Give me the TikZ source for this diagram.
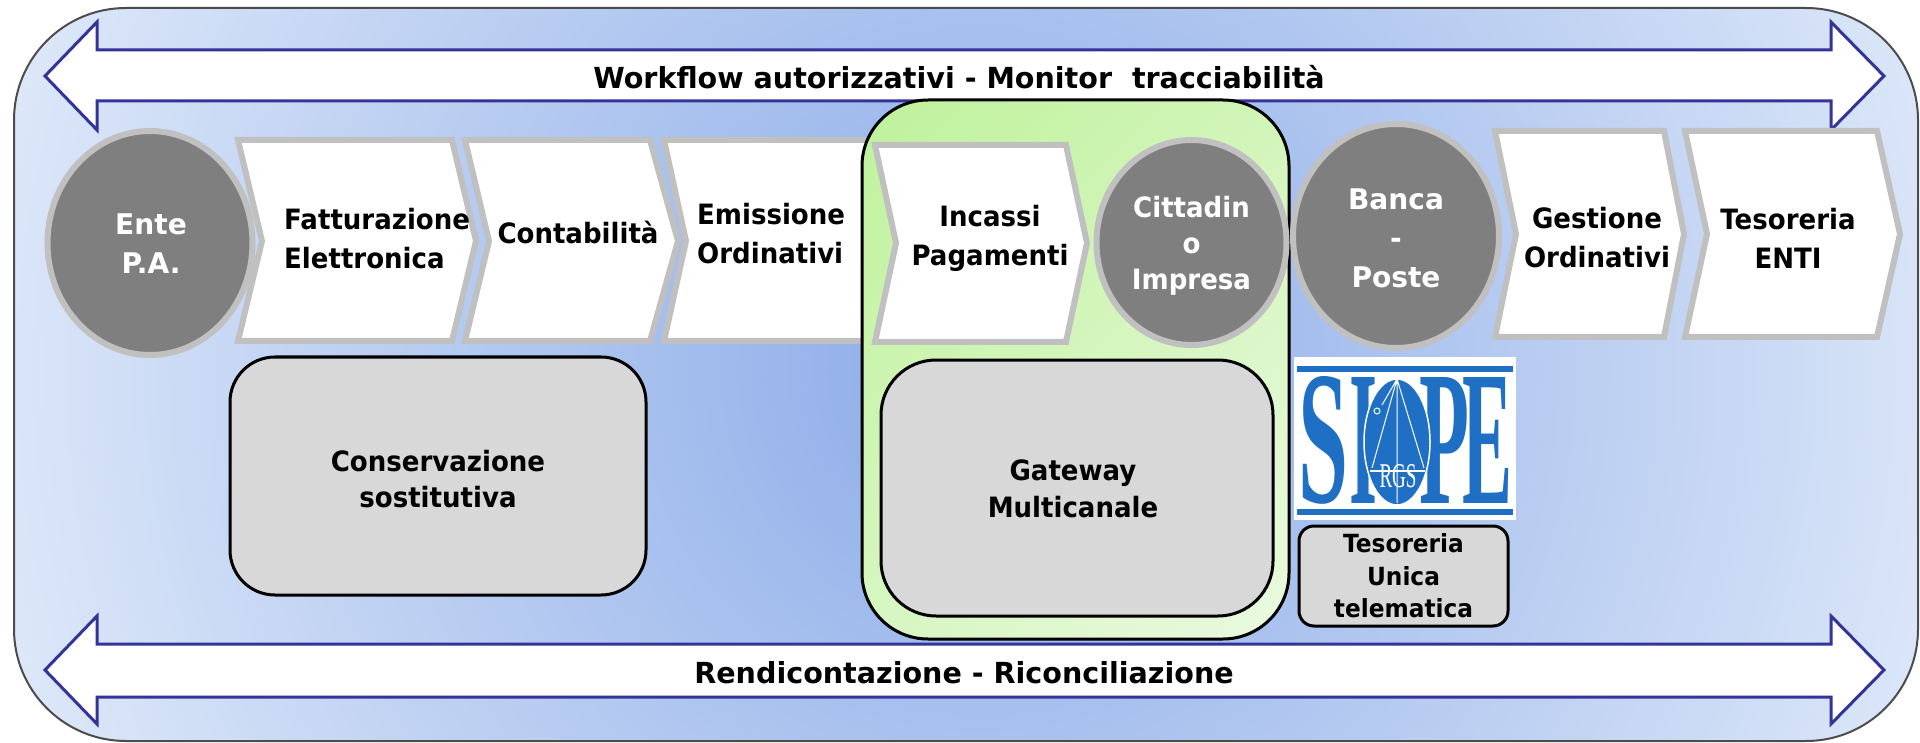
\documentclass[tikz,border=0pt]{standalone}
\usepackage{fontspec}
\setmainfont{Liberation Serif}
\newfontfamily\fA{DejaVu Sans}[FakeStretch=0.985]
\newfontfamily\fB{DejaVu Sans}[FakeStretch=0.93]
\newfontfamily\logofont{Liberation Serif}
\usetikzlibrary{shapes.geometric}
\definecolor{bgedge}{HTML}{DFE9F9}
\definecolor{bgmid}{HTML}{8BABE8}
\definecolor{grnA}{HTML}{BFF29B}
\definecolor{grnB}{HTML}{EAF9E0}
\definecolor{greyline}{HTML}{C0C0C0}
\definecolor{greyfill}{HTML}{7F7F7F}
\definecolor{boxfill}{HTML}{D8D8D8}
\definecolor{navy}{HTML}{333399}
\definecolor{siope}{HTML}{1F6FC4}
\pgfdeclarehorizontalshading{grnshade}{100bp}{color(0bp)=(grnA);color(14.6bp)=(grnA);color(85.4bp)=(grnB);color(100bp)=(grnB)}
\tikzset{
  x=1pt,y=-1pt,
  chevron/.style={draw=greyline,fill=white,line width=6pt,miter limit=10},
  disc/.style={ellipse,draw=greyline,fill=greyfill,line width=6pt,inner sep=0pt},
  disclabel/.style={inner sep=0pt,text=white,align=center},
  label/.style={inner sep=0pt,align=left,font=\fB\fontsize{28}{39}\selectfont\bfseries},
  clabel/.style={inner sep=0pt,align=center,font=\fB\fontsize{28}{39}\selectfont\bfseries},
  bandlabel/.style={inner sep=0pt,font=\fA\fontsize{29}{29}\selectfont\bfseries},
  band/.style={draw=navy,fill=white,line width=3pt,miter limit=10},
  greybox/.style={rectangle,draw=black,fill=boxfill,line width=3pt,inner sep=0pt,align=center},
  logoletter/.style={inner sep=0pt,text=siope,font=\logofont\bfseries},
}
\newcommand{\chev}[7]{\draw[chevron] (#1,#2)--(#5,#2)--(#6,#7)--(#5,#3)--(#1,#3)--(#4,#7)--cycle;}
\newcommand{\dbl}[5]{\draw[band] (45,#1)--(97,#2)--(97,#3)--(1831,#3)--(1831,#2)--(1884,#1)--(1831,#5)--(1831,#4)--(97,#4)--(97,#5)--cycle;}
\begin{document}
\begin{tikzpicture}
\useasboundingbox (0,0) rectangle (1920,743);
% outer panel
\begin{scope}
\clip[rounded corners=112pt] (14,8) rectangle (1918,741);
\shade[inner color=bgmid,outer color=bgedge] (980,371) circle [radius=1040];
\end{scope}
\draw[draw=black!70,line width=2pt,rounded corners=112pt] (14,8) rectangle (1918,741);
% bands
\dbl{76}{22}{50}{101}{130}
\dbl{670}{616}{644}{697}{724}
\node[bandlabel] (wf) at (959,77) {Workflow autorizzativi - Monitor\ \ tracciabilità};
\node[bandlabel] (rr) at (964,673) {Rendicontazione - Riconciliazione};
% chevrons left
\chev{238}{140}{341}{262}{452}{476}{241}
\chev{465}{140}{341}{489}{650}{678}{241}
\chev{664}{140}{341}{686}{870}{895}{241}
\node[disc,minimum width=205pt,minimum height=224pt] (ente) at (150,243) {};
\node[disclabel,font=\fA\fontsize{28.5}{39}\selectfont\bfseries] (entet) at (151,244) {Ente\\P.A.};
\node[label,anchor=west] (fatt) at (284,239) {Fatturazione\\Elettronica};
\node[clabel] (cont) at (578,233) {Contabilità};
\node[label,anchor=west] (emis) at (697,234) {Emissione\\Ordinativi};
% green container
\draw[draw=black,line width=3pt,rounded corners=66pt,shading=grnshade,shading angle=-45] (862,100) rectangle (1289,639);
\chev{875}{145}{342}{896}{1066}{1087}{243}
\node[clabel] (inca) at (990,238) {Incassi\\Pagamenti};
\node[disc,minimum width=190pt,minimum height=205pt] (citt) at (1191.5,242.5) {};
\node[disclabel,font=\fB\fontsize{28}{36}\selectfont\bfseries] (cittt) at (1191.5,245.5) {Cittadin\\o\\Impresa};
\node[greybox,minimum width=392pt,minimum height=256pt,rounded corners=55pt,font=\fB\fontsize{28}{37}\selectfont\bfseries] (gate) at (1077,488) {};
\node[inner sep=0pt,align=center,font=\fB\fontsize{28}{37}\selectfont\bfseries] (gatet) at (1073,489) {Gateway\\Multicanale};
% right part
\chev{1495}{131}{337}{1516}{1664}{1684}{234}
\chev{1685}{131}{337}{1707}{1877}{1900}{234}
\node[disc,minimum width=206pt,minimum height=224pt] (banca) at (1396,236) {};
\node[disclabel,font=\fA\fontsize{28.5}{39}\selectfont\bfseries] (bancat) at (1396,238) {Banca\\-\\Poste};
\node[clabel] (gest) at (1597,238) {Gestione\\Ordinativi};
\node[clabel] (teso) at (1788,238) {Tesoreria\\ENTI};
\node[greybox,minimum width=416pt,minimum height=238pt,rounded corners=45pt] (cons) at (438,476) {};
\node[inner sep=0pt,align=center,font=\fB\fontsize{28}{36}\selectfont\bfseries] (const) at (438,479) {Conservazione\\sostitutiva};
% SIOPE logo
\fill[white] (1294,357) rectangle (1516,520);
\fill[siope] (1297,366) rectangle (1513,372);
\fill[siope] (1297,509) rectangle (1513,515);
\node[logoletter] (sS) at (1323,440) {\resizebox{50pt}{126pt}{S}};
\node[logoletter] (sI) at (1363,440) {\resizebox{28pt}{126pt}{I}};
\node[logoletter] (sP) at (1444,440) {\resizebox{50pt}{126pt}{P}};
\node[logoletter] (sE) at (1487,440) {\resizebox{50pt}{126pt}{E}};
\draw[white,line width=1.5pt,fill=siope] (1397,442) ellipse [x radius=33,y radius=63];
\draw[white,line width=1pt] (1397,379)--(1397,503) (1397,379)--(1372,468) (1397,379)--(1424,468) (1397,379)--(1382,405);
\draw[white,line width=1.5pt] (1370,471)--(1425,471);
\draw[white,line width=1pt] (1377,411) circle (3);
\node[inner sep=0pt,text=white,font=\logofont] (srgs) at (1398,476) {\resizebox{37pt}{23pt}{RGS}};
\node[greybox,minimum width=209pt,minimum height=100pt,rounded corners=15pt,font=\fB\fontsize{25}{32.5}\selectfont\bfseries] (tut) at (1403.5,576) {Tesoreria\\Unica\\telematica};
\end{tikzpicture}
\end{document}
